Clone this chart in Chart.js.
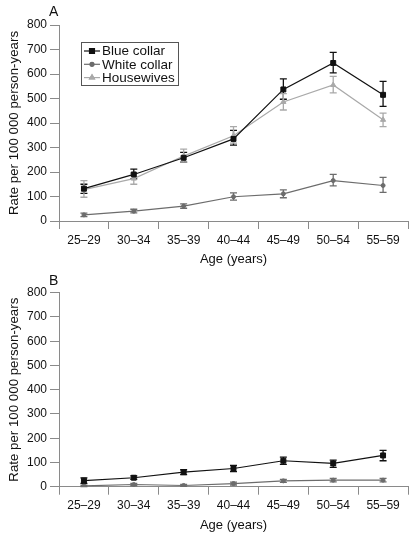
<!DOCTYPE html>
<html>
<head>
<meta charset="utf-8">
<script src="https://cdn.jsdelivr.net/npm/chart.js@4/dist/chart.umd.min.js"></script>
<style>
  html, body { margin: 0; padding: 0; background: #fff; }
  body { width: 415px; height: 534px; position: relative; overflow: hidden; font-family: "Liberation Sans", Arial, sans-serif; }
  .panel { position: absolute; left: 0; width: 415px; }
  .plabel { position: absolute; left: 49px; font-size: 14px; color: #111; }
</style>
</head>
<body>
<div class="panel" style="top:0;height:270px"><canvas id="cA"></canvas></div>
<div class="panel" style="top:270px;height:264px"><canvas id="cB"></canvas></div>
<div class="plabel" style="top:3px">A</div>
<div class="plabel" style="top:272px">B</div>
<script>
// ---- data ----
const ageGroups = ["25\u201329", "30\u201334", "35\u201339", "40\u201344", "45\u201349", "50\u201354", "55\u201359"];
const yTicks = [0, 100, 200, 300, 400, 500, 600, 700, 800];

// Panel A
const aBlue     = [132, 190, 258, 335, 537, 645, 515];
const aBlueLo   = [113, 172, 240, 310, 497, 605, 468];
const aBlueHi   = [150, 212, 280, 370, 580, 688, 570];
const aWhite    = [25, 40, 61, 99, 111, 165, 145];
const aWhiteLo  = [18, 33, 52, 85, 95, 143, 117];
const aWhiteHi  = [32, 48, 70, 115, 127, 190, 178];
const aHouse    = [128, 173, 265, 348, 486, 555, 413];
const aHouseLo  = [97, 150, 240, 318, 453, 523, 385];
const aHouseHi  = [165, 195, 293, 385, 520, 590, 440];

// Panel B
const bBlue     = [25, 37, 60, 75, 107, 96, 129];
const bBlueLo   = [14, 30, 50, 62, 92, 80, 107];
const bBlueHi   = [36, 45, 70, 88, 122, 110, 150];
const bWhite    = [3, 9, 5, 13, 24, 27, 27];
const bWhiteLo  = [0, 4, 1, 7, 18, 20, 20];
const bWhiteHi  = [6, 14, 9, 19, 30, 34, 34];

const seriesNames = ["Blue collar", "White collar", "Housewives"];
const COL_BLUE = "#111111", COL_WHITE = "#6c6c6c", COL_HOUSE = "#a9a9a9";
const AXIS = "#8a8a8a";
const FONT = "'Liberation Sans', Arial, sans-serif";

function ds(label, data, lo, hi, color, style, radius) {
  return {
    label, data, errLo: lo, errHi: hi,
    borderColor: color, backgroundColor: color,
    pointStyle: style, pointRadius: radius, pointBorderWidth: 1,
    pointBorderColor: color, pointBackgroundColor: color,
    borderWidth: 1.2, tension: 0, fill: false
  };
}

const errorBars = {
  id: "errorBars",
  beforeDatasetsDraw(chart) {
    const ctx = chart.ctx, y = chart.scales.y;
    chart.data.datasets.forEach((d, i) => {
      const meta = chart.getDatasetMeta(i);
      ctx.save();
      ctx.strokeStyle = d.borderColor;
      ctx.lineWidth = 1.3;
      meta.data.forEach((pt, j) => {
        const x = pt.x;
        const yl = y.getPixelForValue(d.errLo[j]);
        const yh = y.getPixelForValue(d.errHi[j]);
        ctx.beginPath();
        ctx.moveTo(x, yl); ctx.lineTo(x, yh);
        ctx.moveTo(x - 3.5, yl); ctx.lineTo(x + 3.5, yl);
        ctx.moveTo(x - 3.5, yh); ctx.lineTo(x + 3.5, yh);
        ctx.stroke();
      });
      ctx.restore();
    });
  }
};

const boxLegend = {
  id: "boxLegend",
  afterDraw(chart, args, opts) {
    if (!opts.show) return;
    const ctx = chart.ctx;
    ctx.save();
    ctx.strokeStyle = "#555";
    ctx.lineWidth = 1;
    ctx.strokeRect(81.5, 42.5, 97, 43);
    ctx.font = "13.5px " + FONT;
    ctx.textBaseline = "middle";
    ctx.fillStyle = "#111";
    chart.data.datasets.forEach((d, i) => {
      const yy = 51 + i * 13.3;
      ctx.strokeStyle = d.borderColor;
      ctx.lineWidth = 1.2;
      ctx.beginPath(); ctx.moveTo(84, yy); ctx.lineTo(100, yy); ctx.stroke();
      Chart.helpers.drawPoint(ctx, {pointStyle: d.pointStyle, radius: d.pointRadius, borderWidth: 1}, 92, yy);
      ctx.fillStyle = d.borderColor;
      ctx.fill();
      ctx.fillStyle = "#111";
      ctx.fillText(d.label, 102, yy + 0.5);
    });
    ctx.restore();
  }
};

function makeChart(id, datasets, topPad, xHeight, titleBottomPad, showLegend) {
  return new Chart(document.getElementById(id), {
    type: "line",
    data: { labels: ageGroups, datasets },
    plugins: [errorBars, boxLegend],
    options: {
      responsive: true, maintainAspectRatio: false, animation: false,
      layout: { padding: { top: topPad, right: 7, left: 0, bottom: 0 } },
      plugins: { legend: { display: false }, tooltip: { enabled: false }, boxLegend: { show: showLegend } },
      scales: {
        x: {
          type: "category", offset: true,
          grid: { offset: true, drawOnChartArea: false, drawTicks: true, tickLength: 8, color: AXIS, lineWidth: 1 },
          border: { display: true, color: AXIS, width: 1 },
          ticks: { color: "#111", font: { family: FONT, size: 12 }, padding: 4, maxRotation: 0, autoSkip: false },
          title: { display: true, text: "Age (years)", color: "#111", font: { family: FONT, size: 13 }, padding: { top: 0, bottom: titleBottomPad } },
          afterFit(s) { s.height = xHeight; }
        },
        y: {
          min: 0, max: 800,
          afterBuildTicks(s) { s.ticks = yTicks.map(v => ({ value: v })); },
          grid: { drawOnChartArea: false, drawTicks: true, tickLength: 9, color: AXIS, lineWidth: 1 },
          border: { display: true, color: AXIS, width: 1 },
          ticks: { color: "#111", font: { family: FONT, size: 12 }, padding: 3 },
          title: { display: true, text: "Rate per 100 000 person-years", color: "#111", font: { family: FONT, size: 13.3 }, padding: { top: 6, bottom: 0 } },
          afterFit(s) { s.width = 59; }
        }
      }
    }
  });
}

makeChart("cA", [
  ds(seriesNames[0], aBlue, aBlueLo, aBlueHi, COL_BLUE, "rect", 3.5),
  ds(seriesNames[1], aWhite, aWhiteLo, aWhiteHi, COL_WHITE, "circle", 2),
  ds(seriesNames[2], aHouse, aHouseLo, aHouseHi, COL_HOUSE, "triangle", 3)
], 25, 49, 3, true);

makeChart("cB", [
  ds(seriesNames[0], bBlue, bBlueLo, bBlueHi, COL_BLUE, "rect", 3.5),
  ds(seriesNames[1], bWhite, bWhiteLo, bWhiteHi, COL_WHITE, "circle", 2)
], 22.7, 47.3, 1, false);
</script>
</body>
</html>
